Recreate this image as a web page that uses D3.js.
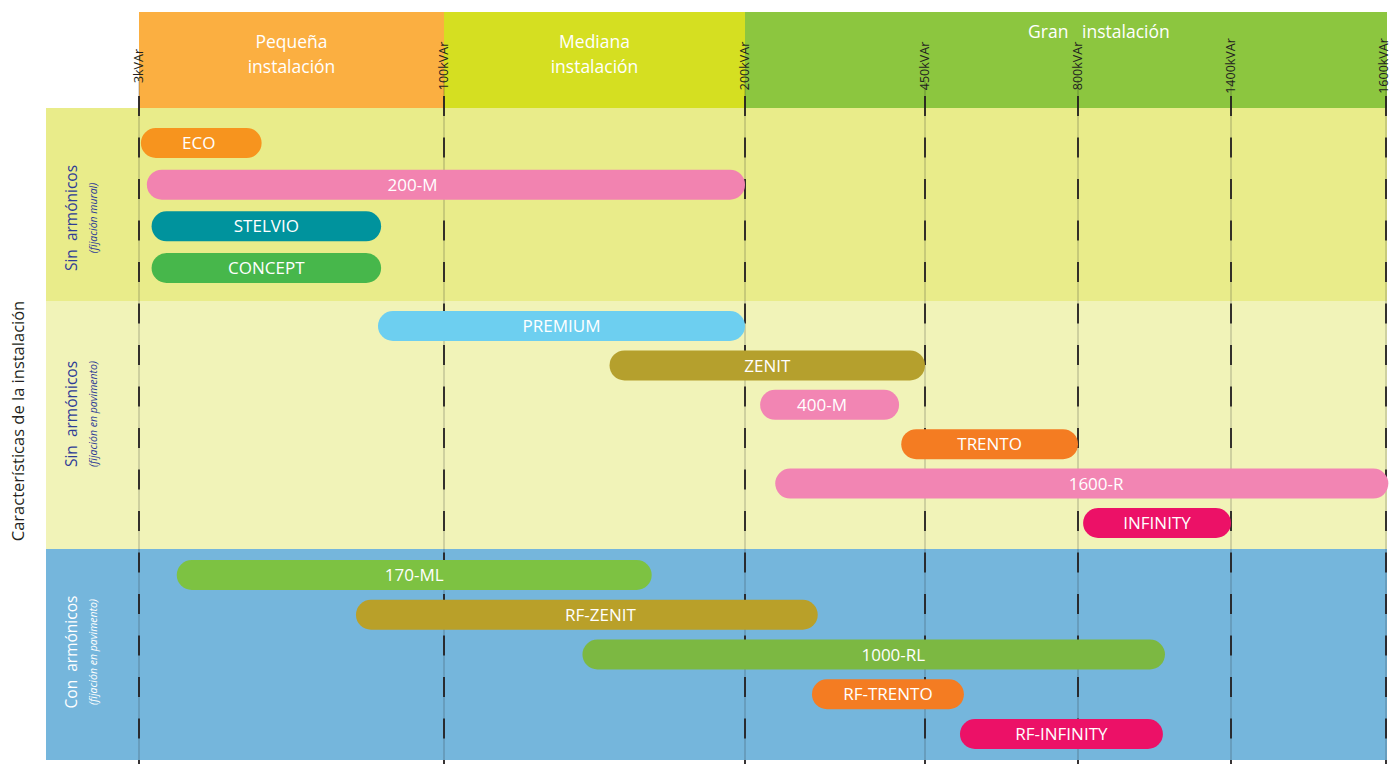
<!DOCTYPE html>
<html><head><meta charset="utf-8">
<script src="https://cdn.jsdelivr.net/npm/d3@7"></script>
<style>body{margin:0;background:#fff}svg{display:block}text{font-family:"Open Sans",sans-serif}</style>
</head><body><svg id="c" width="1391" height="764"></svg>
<script>
// ---------- data ----------
const tickValues = [3, 100, 200, 450, 800, 1400, 1600];
const tickLabels = ["3kVAr", "100kVAr", "200kVAr", "450kVAr", "800kVAr", "1400kVAr", "1600kVAr"];

const sizeNames = [["Pequeña", "instalación"], ["Mediana", "instalación"], ["Gran   instalación"]];
const sizeFrom = [3, 100, 200];
const sizeTo = [100, 200, 1600];
const sizeLabelAt = [null, null, 882];
const sizeColors = ["#FBAF41", "#D5DF21", "#8CC63F"];

const groupNames = ["Sin  armónicos", "Sin  armónicos", "Con  armónicos"];
const groupNotes = ["(fijación mural)", "(fijación en pavimento)", "(fijación en pavimento)"];
const groupColors = ["#E9EC8A", "#F1F3B8", "#75B6DC"];
const groupTextColors = ["#2E3C96", "#2E3C96", "#FFFFFF"];
const axisTitle = "Características de la instalación";

const products = ["ECO", "200-M", "STELVIO", "CONCEPT", "PREMIUM", "ZENIT", "400-M", "TRENTO", "1600-R", "INFINITY",
                  "170-ML", "RF-ZENIT", "1000-RL", "RF-TRENTO", "RF-INFINITY"];
const productGroup = [0, 0, 0, 0, 1, 1, 1, 1, 1, 1, 2, 2, 2, 2, 2];
const productMin = [3.6, 5.5, 7, 7, 79, 155, 221, 417, 242, 820, 15, 72, 146, 293, 530];
const productMax = [42, 200, 80, 80, 200, 450, 414, 800, 1603, 1400, 169, 301, 1141, 539, 1133];
const productLabelAt = [22, 90, null, null, null, null, 307, null, 871, null, null, 152, 406, null, null];
const productColors = ["#F7941E", "#F283B0", "#00939D", "#47B74B", "#6DCFF0", "#B5A02D", "#F285B3", "#F47C22",
                       "#F285B3", "#EC1167", "#7DC242", "#B9A029", "#7CB842", "#F47C22", "#EC1167"];

// ---------- layout ----------
const X_RANGE = [139, 444, 745, 925, 1078, 1231, 1386];
const BAND_LEFT = 46;
const HEADER = [12, 108];
const GROUP_Y = [[108, 301], [301, 549], [549, 760]];
const ROW_RANGE = [[143, 268], [326, 523], [575, 734]];
const GROUP_LABEL_Y = [218, 414, 652];
const BAR_H = 30;

const svg = d3.select("#c");
const x = d3.scaleLinear().domain(tickValues).range(X_RANGE);
const BAND_RIGHT = x(1600) + 1;

const rowScales = GROUP_Y.map((g, i) =>
  d3.scalePoint().domain(products.filter((p, j) => productGroup[j] === i)).range(ROW_RANGE[i]));
const yOf = j => rowScales[productGroup[j]](products[j]);

// group bands
svg.append("g").selectAll("rect").data(GROUP_Y).join("rect")
  .attr("x", BAND_LEFT).attr("width", BAND_RIGHT - BAND_LEFT)
  .attr("y", d => d[0]).attr("height", d => d[1] - d[0])
  .attr("fill", (d, i) => groupColors[i]);

// header bands
svg.append("g").selectAll("rect").data(sizeNames).join("rect")
  .attr("x", (d, i) => x(sizeFrom[i])).attr("width", (d, i) => x(sizeTo[i]) - x(sizeFrom[i]) + (i === 2 ? 1 : 0))
  .attr("y", HEADER[0]).attr("height", HEADER[1] - HEADER[0])
  .attr("fill", (d, i) => sizeColors[i]);

const hdr = svg.append("g").selectAll("text").data(sizeNames).join("text")
  .attr("x", (d, i) => sizeLabelAt[i] != null ? x(sizeLabelAt[i]) : (x(sizeFrom[i]) + x(sizeTo[i])) / 2)
  .attr("text-anchor", "middle").attr("fill", "#fff").attr("font-size", 17.5)
  .style("white-space", "pre");
hdr.each(function (d, i) {
  const t = d3.select(this);
  const base = d.length === 1 ? 38 : 48;
  d.forEach((line, k) => t.append("tspan").attr("x", t.attr("x")).attr("y", base + k * 24.5).text(line));
});

// thin guide lines
svg.append("g").selectAll("line").data(tickValues).join("line")
  .attr("x1", d => x(d)).attr("x2", d => x(d)).attr("y1", 80).attr("y2", 760)
  .attr("stroke", "rgba(40,40,40,0.35)").attr("stroke-width", 1);
// dashed lines
svg.append("g").selectAll("line").data(tickValues).join("line")
  .attr("x1", d => x(d)).attr("x2", d => x(d)).attr("y1", 96).attr("y2", 764)
  .attr("stroke", "#231F20").attr("stroke-width", 1.8).attr("stroke-dasharray", "20,21.5");

// tick labels
svg.append("g").selectAll("text").data(tickValues).join("text")
  .attr("transform", d => `translate(${Math.min(x(d), 1384)},66) rotate(-90)`)
  .attr("text-anchor", "middle").attr("dy", "0.35em")
  .attr("font-size", 12.5).attr("fill", "#231F20")
  .text((d, i) => tickLabels[i]);

// bars
svg.append("g").selectAll("rect").data(products).join("rect")
  .attr("x", (d, j) => x(productMin[j])).attr("width", (d, j) => x(productMax[j]) - x(productMin[j]))
  .attr("y", (d, j) => yOf(j) - BAR_H / 2).attr("height", BAR_H)
  .attr("rx", BAR_H / 2).attr("ry", BAR_H / 2)
  .attr("fill", (d, j) => productColors[j]);
svg.append("g").selectAll("text").data(products).join("text")
  .attr("x", (d, j) => productLabelAt[j] != null ? x(productLabelAt[j]) : (x(productMin[j]) + x(productMax[j])) / 2)
  .attr("y", (d, j) => yOf(j)).attr("dy", "0.36em")
  .attr("text-anchor", "middle").attr("fill", "#fff").attr("font-size", 17)
  .text(d => d);

// group labels
const gl = svg.append("g").selectAll("g").data(groupNames).join("g")
  .attr("transform", (d, i) => `translate(0,${GROUP_LABEL_Y[i]})`);
gl.append("text").attr("transform", "translate(77,0) rotate(-90)")
  .attr("text-anchor", "middle").attr("font-size", 15.5).style("white-space", "pre")
  .attr("fill", (d, i) => groupTextColors[i]).text(d => d);
gl.append("text").attr("transform", "translate(97,0) rotate(-90)")
  .attr("text-anchor", "middle").attr("font-size", 10.5).attr("font-style", "italic")
  .attr("fill", (d, i) => groupTextColors[i]).text((d, i) => groupNotes[i]);

// axis title
svg.append("text").attr("transform", "translate(24,421) rotate(-90)")
  .attr("text-anchor", "middle").attr("font-size", 16.5).attr("fill", "#231F20").text(axisTitle);
</script></body></html>
